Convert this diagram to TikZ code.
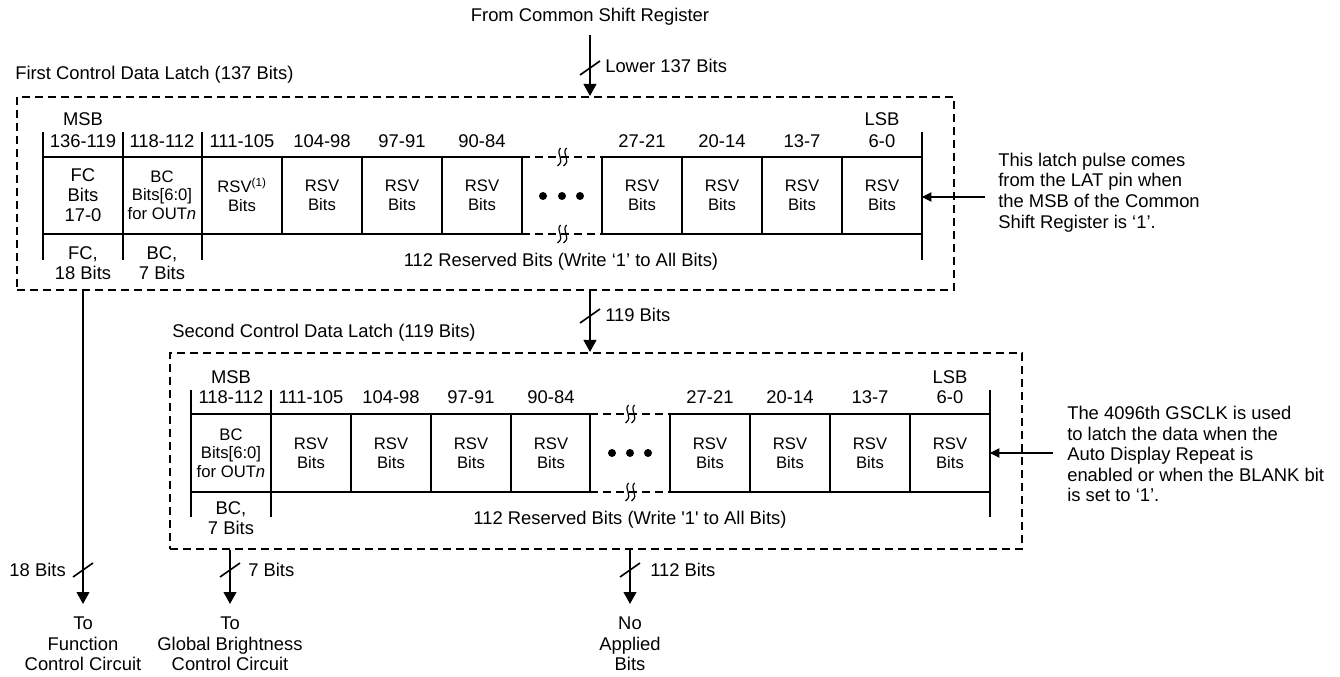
\documentclass[tikz,border=0pt]{standalone}
\usepackage{fontspec}
\setmainfont{Liberation Sans}
\newfontfamily\straightq{Liberation Sans}
\usetikzlibrary{arrows.meta}
\newcommand\lblfont{\fontsize{13.8}{15.4}\selectfont}
\newcommand\cellfnt{\fontsize{12.5}{14}\selectfont}
\begin{document}
\begin{tikzpicture}[
    x=0.75pt, y=-0.75pt,
    txt/.style={font=\lblfont, align=center, inner sep=0pt},
    bits/.style={font=\cellfnt, align=center, inner sep=0pt},
    note/.style={font=\lblfont, align=left, anchor=west, inner ysep=0pt},
    latch/.style={draw, line width=1.5pt, dash pattern=on 6pt off 3.75pt, inner sep=0pt},
    grid/.style={line width=1.6pt},
    gap/.style={line width=1.6pt, dash pattern=on 6pt off 3.75pt},
    bus/.style={line width=1.6pt, -{Triangle[length=9pt,width=9.5pt]}},
    pulse/.style={line width=0.8pt, -{Triangle[length=7pt,width=7pt]}},
    busmark/.pic={\draw[line width=1.2pt] (-10,7) -- (10,-7);},
    breakmark/.pic={\draw[line width=0.9pt] (-1.5,-9) .. controls (-7,-3) and (4,3) .. (-4.5,9)
        (4.5,-9) .. controls (-1,-3) and (10,3) .. (1.5,9);}
]
    \useasboundingbox (0,0) rectangle (1340,677);

    % Latch frames
    \node[latch, minimum width=702.75pt, minimum height=144.75pt] (latch1) at (485.5,193.5) {};
    \node[latch, minimum width=639pt, minimum height=147pt] (latch2) at (596,451) {};
    \node[txt, anchor=west] (title1) at (15,75) {First Control Data Latch (137 Bits)};
    \node[txt, anchor=west] (title2) at (172,333) {Second Control Data Latch (119 Bits)};

    % Input from shift register
    \node[txt] (src) at (590,17) {From Common Shift Register};
    \draw[bus, shorten <=7pt] (src) -- (src |- latch1.north);
    \pic at (590,68) {busmark};
    \node[txt, anchor=west] (lower) at (605,66) {Lower 137 Bits};

    % First latch: cells
    \draw[grid] (43,132) -- (43,260) (123,132) -- (123,260) (202,132) -- (202,260) (922,132) -- (922,260);
    \draw[grid] (43,157) -- (522,157) (43,234) -- (522,234) (602,157) -- (922,157) (602,234) -- (922,234);
    \draw[grid] (282,157) -- (282,234) (362,157) -- (362,234) (442,157) -- (442,234) (522,157) -- (522,234)
        (602,157) -- (602,234) (682,157) -- (682,234) (762,157) -- (762,234) (842,157) -- (842,234);
    \draw[gap] (522,157) -- (602,157) (522,234) -- (602,234);
    \pic at (562,157) {breakmark};
    \pic at (562,234) {breakmark};
    \coordinate (lsb1) at (922,197);

    \node[txt] (msb1) at (83,119) {MSB};
    \node[txt] (lsbl1) at (882,119) {LSB};
    \node[txt] (h1a) at (83,141) {136-119};
    \node[txt] (h1b) at (162,141) {118-112};
    \node[txt] (h1c) at (242,141) {111-105};
    \node[txt] (h1d) at (322,141) {104-98};
    \node[txt] (h1e) at (402,141) {97-91};
    \node[txt] (h1f) at (482,141) {90-84};
    \node[txt] (h1g) at (642,141) {27-21};
    \node[txt] (h1h) at (722,141) {20-14};
    \node[txt] (h1i) at (802,141) {13-7};
    \node[txt] (h1j) at (882,141) {6-0};

    \node[txt, font=\fontsize{13.8}{15}\selectfont] (fc1) at (83,195) {FC\\Bits\\17-0};
    \node[bits] (bc1) at (162,195) {BC\\Bits[6:0]\\for OUT\textit{n}};
    \node[bits] (r1a) at (242,195) {RSV\textsuperscript{(1)}\\Bits};
    \node[bits] (r1b) at (322,195) {RSV\\Bits};
    \node[bits] (r1c) at (402,195) {RSV\\Bits};
    \node[bits] (r1d) at (482,195) {RSV\\Bits};
    \node[bits] (r1e) at (642,195) {RSV\\Bits};
    \node[bits] (r1f) at (722,195) {RSV\\Bits};
    \node[bits] (r1g) at (802,195) {RSV\\Bits};
    \node[bits] (r1h) at (882,195) {RSV\\Bits};
    \fill (543,196) circle[radius=3pt] (562,196) circle[radius=3pt] (580,196) circle[radius=3pt];

    \node[txt] (f1a) at (83,263) {FC,\\18 Bits};
    \node[txt] (f1b) at (162,263) {BC,\\7 Bits};
    \node[txt] (f1c) at (561,262) {112 Reserved Bits (Write ‘1’ to All Bits)};

    % Latch pulse 1
    \node[note, inner xsep=9.75pt] (note1) at (985,192.5) {This latch pulse comes\\from the LAT pin when\\the MSB of the Common\\Shift Register is ‘1’.};
    \draw[pulse] (note1.west |- lsb1) -- (lsb1);

    % First to second latch
    \draw[bus] (src |- latch1.south) -- (src |- latch2.north);
    \pic at (590,316) {busmark};
    \node[txt, anchor=west] (b119) at (605,315) {119 Bits};

    % Second latch: cells
    \draw[grid] (191,390) -- (191,517) (271,390) -- (271,517) (990,390) -- (990,517);
    \draw[grid] (191,414) -- (590,414) (191,492) -- (590,492) (670,414) -- (990,414) (670,492) -- (990,492);
    \draw[grid] (351,414) -- (351,492) (431,414) -- (431,492) (511,414) -- (511,492) (590,414) -- (590,492)
        (670,414) -- (670,492) (750,414) -- (750,492) (830,414) -- (830,492) (910,414) -- (910,492);
    \draw[gap] (590,414) -- (670,414) (590,492) -- (670,492);
    \pic at (630,414) {breakmark};
    \pic at (630,492) {breakmark};
    \coordinate (lsb2) at (990,453);

    \node[txt] (msb2) at (231,377) {MSB};
    \node[txt] (lsbl2) at (950,377) {LSB};
    \node[txt] (h2a) at (231,397) {118-112};
    \node[txt] (h2b) at (311,397) {111-105};
    \node[txt] (h2c) at (391,397) {104-98};
    \node[txt] (h2d) at (471,397) {97-91};
    \node[txt] (h2e) at (551,397) {90-84};
    \node[txt] (h2f) at (710,397) {27-21};
    \node[txt] (h2g) at (790,397) {20-14};
    \node[txt] (h2h) at (870,397) {13-7};
    \node[txt] (h2i) at (950,397) {6-0};

    \node[bits] (bc2) at (231,453) {BC\\Bits[6:0]\\for OUT\textit{n}};
    \node[bits] (r2a) at (311,453) {RSV\\Bits};
    \node[bits] (r2b) at (391,453) {RSV\\Bits};
    \node[bits] (r2c) at (471,453) {RSV\\Bits};
    \node[bits] (r2d) at (551,453) {RSV\\Bits};
    \node[bits] (r2e) at (710,453) {RSV\\Bits};
    \node[bits] (r2f) at (790,453) {RSV\\Bits};
    \node[bits] (r2g) at (870,453) {RSV\\Bits};
    \node[bits] (r2h) at (950,453) {RSV\\Bits};
    \fill (612,453) circle[radius=3pt] (630,453) circle[radius=3pt] (648,453) circle[radius=3pt];

    \node[txt] (f2a) at (231,518) {BC,\\7 Bits};
    \node[txt] (f2b) at (630,520) {112 Reserved Bits (Write {\straightq'}1{\straightq'} to All Bits)};

    % Latch pulse 2
    \node[note, inner xsep=10.5pt] (note2) at (1053,454) {The 4096th GSCLK is used\\to latch the data when the\\Auto Display Repeat is\\enabled or when the BLANK bit\\is set to ‘1’.};
    \draw[pulse] (note2.west |- lsb2) -- (lsb2);

    % Outputs
    \node[txt, anchor=north] (fcout) at (83,617) {To\\Function\\Control Circuit};
    \node[txt, anchor=north] (bcout) at (230,617) {To\\Global Brightness\\Control Circuit};
    \node[txt, anchor=north] (noout) at (630,617) {No\\Applied\\Bits};
    \draw[bus, shorten >=9.75pt] (fcout.north |- latch1.south) -- (fcout.north);
    \draw[bus, shorten >=9.75pt] (bcout.north |- latch2.south) -- (bcout.north);
    \draw[bus, shorten >=9.75pt] (noout.north |- latch2.south) -- (noout.north);
    \pic at (83,570) {busmark};
    \pic at (230,570) {busmark};
    \pic at (630,570) {busmark};
    \node[txt, anchor=east] (b18) at (66,570) {18 Bits};
    \node[txt, anchor=west] (b7) at (248,570) {7 Bits};
    \node[txt, anchor=west] (b112) at (650,570) {112 Bits};
\end{tikzpicture}
\end{document}
